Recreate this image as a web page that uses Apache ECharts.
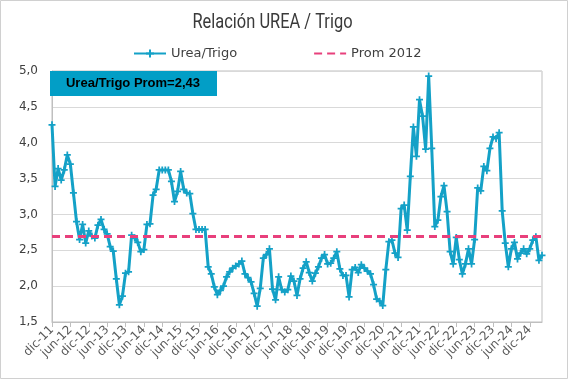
<!DOCTYPE html>
<html>
<head>
<meta charset="utf-8">
<script src="https://cdn.jsdelivr.net/npm/echarts/dist/echarts.min.js"></script>
<style>
html,body{margin:0;padding:0;background:#fff;}
#chart{width:568px;height:379px;}
</style>
</head>
<body>
<div id="chart"></div>
<script>
// Month abbreviations (Spanish) and series range: dic-11 .. abr-25
const MONTHS = ['ene','feb','mar','abr','may','jun','jul','ago','sep','oct','nov','dic'];
const START_MONTH = 11, START_YEAR = 2011, N_POINTS = 161;
const categories = [];
for (let k = 0; k < N_POINTS; k++) {
  const m = (START_MONTH + k) % 12;
  const y = START_YEAR + Math.floor((START_MONTH + k) / 12);
  categories.push(MONTHS[m] + '-' + String(y).slice(2));
}

// Urea / Trigo ratio
const ureaTrigo = [
  4.25,3.39,3.64,3.48,3.62,3.83,3.70,3.30,2.90,2.65,
  2.86,2.60,2.77,2.70,2.67,2.85,2.93,2.79,2.73,2.55,
  2.49,2.10,1.74,1.86,2.18,2.20,2.71,2.67,2.61,2.48,
  2.51,2.86,2.87,3.27,3.35,3.62,3.62,3.62,3.62,3.46,
  3.18,3.32,3.60,3.35,3.30,3.29,3.01,2.79,2.79,2.79,
  2.79,2.27,2.17,1.99,1.88,1.94,2.00,2.13,2.20,2.25,
  2.28,2.31,2.35,2.17,2.12,2.06,1.90,1.72,1.97,2.39,
  2.44,2.52,1.96,1.81,2.13,1.95,1.92,1.95,2.14,2.07,
  1.87,2.10,2.25,2.34,2.19,2.07,2.18,2.27,2.39,2.44,
  2.31,2.32,2.39,2.48,2.24,2.15,2.15,1.85,2.23,2.26,
  2.19,2.30,2.25,2.21,2.17,2.02,1.82,1.79,1.73,2.23,
  2.62,2.64,2.46,2.40,3.08,3.13,2.78,3.53,4.22,3.81,
  4.60,4.37,3.91,4.93,3.92,2.83,2.92,3.25,3.40,3.04,
  2.48,2.31,2.68,2.37,2.17,2.31,2.52,2.31,2.65,3.37,
  3.33,3.67,3.61,3.92,4.08,4.06,4.14,3.05,2.60,2.27,
  2.52,2.61,2.38,2.46,2.52,2.45,2.52,2.64,2.69,2.36,
  2.43
];

const PROM_2012 = 2.70;
const PROM_LABEL = 'Urea/Trigo Prom=2,43';
const TITLE = 'Relación UREA / Trigo';
const yTicks = {min: 1.5, max: 5.0, interval: 0.5};

// condensed look for the title: measure and squeeze horizontally
const TITLE_FONT = '21px Roboto, "DejaVu Sans", sans-serif';
const mctx = document.createElement('canvas').getContext('2d');
mctx.font = TITLE_FONT;
const titleScale = Math.min(1, 160 / mctx.measureText(TITLE).width);

const chart = echarts.init(document.getElementById('chart'), null, {renderer: 'canvas'});
const plusPath = 'path://M3,0H5V3H8V5H5V8H3V5H0V3H3Z';
const BLUE = '#14a1c7';
const PINK = '#e8407c';

chart.setOption({
  animation: false,
  backgroundColor: '#fff',
  legend: {
    left: 128, top: 42,
    itemWidth: 32, itemHeight: 10, itemGap: 76,
    textStyle: {fontFamily: '"DejaVu Sans",Verdana,sans-serif', fontSize: 13, color: '#404040'},
    data: [
      {name: 'Urea/Trigo'},
      {name: 'Prom 2012', itemStyle: {opacity: 0}}
    ]
  },
  grid: {left: 52, right: 26, top: 71, bottom: 57, show: true, borderColor: '#bfbfbf', borderWidth: 1},
  xAxis: {
    type: 'category',
    data: categories,
    boundaryGap: false,
    axisLine: {lineStyle: {color: '#bfbfbf'}},
    axisTick: {show: true, interval: 5, length: 5, lineStyle: {color: '#bfbfbf'}},
    axisLabel: {
      interval: 5, rotate: 45, margin: 6,
      fontFamily: '"DejaVu Sans",Verdana,sans-serif', fontSize: 12, color: '#595959'
    },
    splitLine: {show: false}
  },
  yAxis: {
    type: 'value',
    min: yTicks.min, max: yTicks.max, interval: yTicks.interval,
    axisLine: {show: true, lineStyle: {color: '#bfbfbf'}},
    axisTick: {show: false},
    axisLabel: {
      margin: 14,
      formatter: v => v.toFixed(1).replace('.', ','),
      fontFamily: '"DejaVu Sans",Verdana,sans-serif', fontSize: 12, color: '#404040'
    },
    splitLine: {lineStyle: {color: '#d9d9d9'}}
  },
  series: [
    {
      name: 'Urea/Trigo',
      type: 'line',
      data: ureaTrigo,
      symbol: plusPath,
      symbolSize: 7,
      showAllSymbol: true,
      itemStyle: {color: BLUE},
      lineStyle: {color: BLUE, width: 3},
      z: 3
    },
    {
      name: 'Prom 2012',
      type: 'line',
      data: [],
      symbol: 'none',
      itemStyle: {color: PINK},
      lineStyle: {color: PINK, width: 3, type: [8, 5]},
      markLine: {
        silent: true,
        symbol: 'none',
        label: {show: false},
        lineStyle: {color: PINK, width: 3, type: [8, 5]},
        data: [{yAxis: PROM_2012}]
      },
      z: 2
    }
  ],
  graphic: [
    {
      type: 'rect', silent: true, z: -10,
      shape: {x: 0.5, y: 0.5, width: 567, height: 378},
      style: {fill: 'none', stroke: '#d0d0d0', lineWidth: 1}
    },
    {
      type: 'text', z: 100,
      x: 272.5, y: 23,
      scaleX: titleScale, scaleY: 1,
      style: {
        text: TITLE,
        fill: '#3a3a3a',
        font: TITLE_FONT,
        textAlign: 'center', textVerticalAlign: 'middle'
      }
    },
    {
      type: 'rect', z: 100,
      shape: {x: 50, y: 71, width: 167, height: 25},
      style: {fill: '#029ec6'}
    },
    {
      type: 'text', z: 101,
      x: 133, y: 83.5,
      style: {
        text: PROM_LABEL,
        fill: '#000',
        font: 'bold 13px "Liberation Sans",Arial,sans-serif',
        textAlign: 'center', textVerticalAlign: 'middle'
      }
    }
  ]
});
</script>
</body>
</html>
